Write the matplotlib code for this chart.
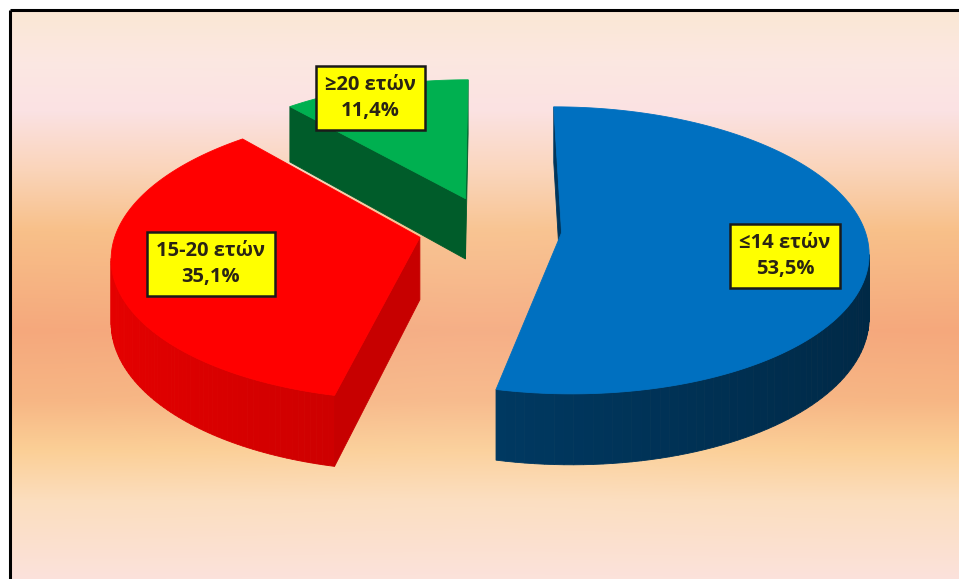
import numpy as np
import matplotlib.pyplot as plt
from matplotlib.patches import Polygon

labels = ['≤14 ετών', '15-20 ετών', '≥20 ετών']
values = [53.5, 35.1, 11.4]
value_text = ['53,5%', '35,1%', '11,4%']
colors = np.array([[0, 112, 192], [255, 0, 0], [0, 176, 80]]) / 255
side_dark = [0.52, 0.82, 0.56]
label_pos = [(785, 256), (211, 264), (370, 98)]

W, H = 959, 579
fig = plt.figure(figsize=(W / 100, H / 100), dpi=100, facecolor='white')
ax = fig.add_axes([0, 0, 1, 1])
ax.set_xlim(0, W)
ax.set_ylim(H, 0)
ax.axis('off')

# background: vertical peach gradient
stops_y = [11, 60, 110, 170, 230, 330, 400, 450, 500, 579]
stops_c = np.array([[250, 232, 212], [252, 232, 226], [251, 226, 228], [250, 212, 185],
                    [248, 192, 137], [245, 168, 124], [247, 182, 132], [251, 207, 150],
                    [251, 222, 190], [252, 226, 220]]) / 255
ys = np.arange(11, H)
col = np.stack([np.interp(ys, stops_y, stops_c[:, c]) for c in range(3)], axis=1)
xs = np.arange(11, W)
cen = 0.12 * np.exp(-((xs - 480) / 250.0) ** 2)
white = np.array([252, 228, 215]) / 255
bg = col[:, None, :] * (1 - cen[None, :, None]) + white * cen[None, :, None]
ax.imshow(bg, extent=(11, W, H, 11), zorder=0, aspect='auto',
          interpolation='nearest')
ax.plot([10, W], [10, 10], color='black', lw=2.2, zorder=1, solid_capstyle='butt')
ax.plot([10, 10], [10, H], color='black', lw=2.2, zorder=1, solid_capstyle='butt')

# perspective 3d pie
cx, cy, R = 490, 229, 303
D, k, t = 8.14, 0.4635, 0.2046
explode = 0.237


def proj(u, v, h):
    s = D / (D + v)
    return cx + R * s * u, cy - R * s * k * v + R * s * t * h


def visible(nu, nv, pu, pv):
    return nu * (0 - pu) + nv * (-D - pv) > 0


def face(pts, c, z):
    ax.add_patch(Polygon(pts, closed=True, facecolor=c, edgecolor=c,
                         lw=0.6, zorder=z))


total = sum(values)
starts = np.concatenate([[0], np.cumsum(values)[:-1]]) / total * 360
ends = np.cumsum(values) / total * 360
order = [2, 1, 0]  # back to front
for zi, i in enumerate(order):
    a0, a1 = np.radians(starts[i]), np.radians(ends[i])
    mid = (a0 + a1) / 2
    ou, ov = explode * np.sin(mid), explode * np.cos(mid)
    base = colors[i]
    z = 2 + zi * 3
    th = np.linspace(a0, a1, 120)
    # outer side
    for j in range(len(th) - 1):
        tm = (th[j] + th[j + 1]) / 2
        pu, pv = ou + np.sin(tm), ov + np.cos(tm)
        if not visible(np.sin(tm), np.cos(tm), pu, pv):
            continue
        f = side_dark[i] + 0.12 * (-np.sin(tm)) - 0.04
        c = np.clip(base * f, 0, 1)
        quad = [proj(ou + np.sin(th[j]), ov + np.cos(th[j]), 0),
                proj(ou + np.sin(th[j + 1]), ov + np.cos(th[j + 1]), 0),
                proj(ou + np.sin(th[j + 1]), ov + np.cos(th[j + 1]), 1),
                proj(ou + np.sin(th[j]), ov + np.cos(th[j]), 1)]
        face(quad, c, z)
    # radial faces
    for a, nu, nv in [(a0, -np.cos(a0), np.sin(a0)), (a1, np.cos(a1), -np.sin(a1))]:
        pu, pv = ou + 0.5 * np.sin(a), ov + 0.5 * np.cos(a)
        if not visible(nu, nv, pu, pv):
            continue
        c = np.clip(base * (side_dark[i] - 0.04), 0, 1)
        quad = [proj(ou, ov, 0), proj(ou + np.sin(a), ov + np.cos(a), 0),
                proj(ou + np.sin(a), ov + np.cos(a), 1), proj(ou, ov, 1)]
        face(quad, c, z)
    # top face
    top = [proj(ou, ov, 0)] + [proj(ou + np.sin(a), ov + np.cos(a), 0) for a in th]
    face(top, base, z + 1)

for i in range(len(values)):
    x, y = label_pos[i]
    ax.text(x, y, labels[i] + '\n' + value_text[i], ha='center', va='center',
            fontsize=14.5, fontweight='bold', color='#2a2414', linespacing=1.4,
            family=['Open Sans', 'DejaVu Sans'], zorder=20,
            bbox=dict(boxstyle='square,pad=0.45', facecolor='#FFFF00',
                      edgecolor='#1a1a1a', lw=1.8))

fig.savefig('out.png', dpi=100, facecolor='white')
